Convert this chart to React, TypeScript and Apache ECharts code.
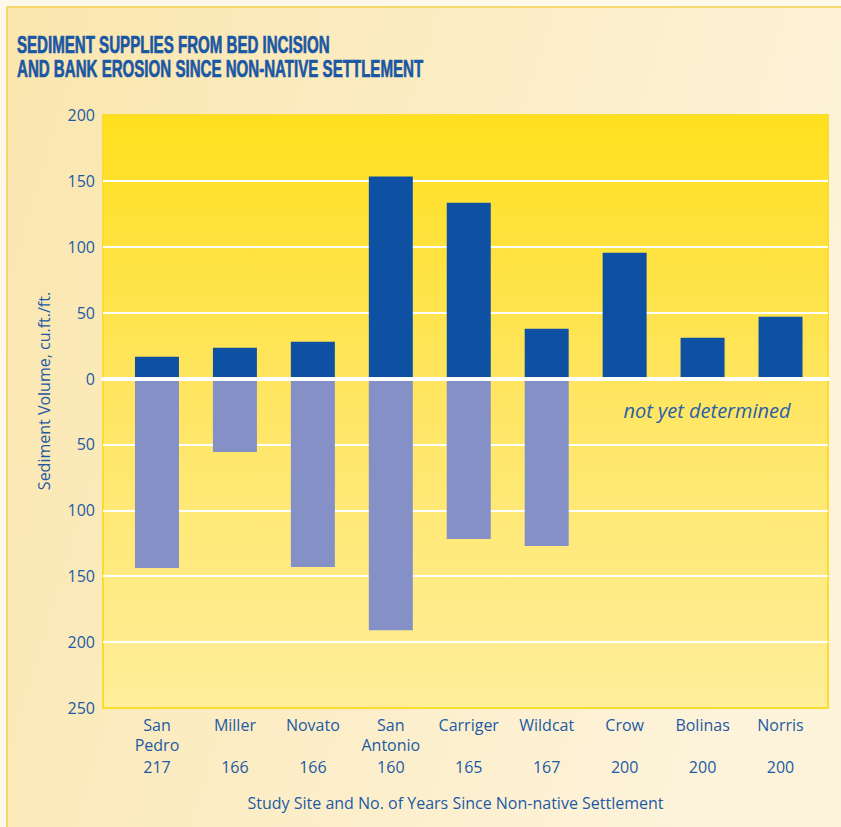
import React, { useEffect, useRef } from "react";
import * as echarts from "echarts";

// ---- data ----
const siteNames = ["San Pedro", "Miller", "Novato", "San Antonio", "Carriger", "Wildcat", "Crow", "Bolinas", "Norris"];
const yearsSince = [217, 166, 166, 160, 165, 167, 200, 200, 200];
const bedIncision = [16.5, 23.3, 27.9, 153.3, 133.5, 37.8, 95.5, 30.9, 46.9];
const bankErosion = [-143.8, -55.7, -143, -191, -121.8, -127.1, null, null, null];
const yTicks = { min: -250, max: 200, interval: 50 };

const titleLines = ["SEDIMENT SUPPLIES FROM BED INCISION", "AND BANK EROSION SINCE NON-NATIVE SETTLEMENT"];
const yAxisTitle = "Sediment Volume, cu.ft./ft.";
const xAxisTitle = "Study Site and No. of Years Since Non-native Settlement";
const pendingNote = "not yet determined";

const BLUE_TEXT = "#1d5aa5";
const FONT = '"Open Sans", "Noto Sans", sans-serif';
const TITLE_FONT_FAMILY = '"Liberation Sans", Arial, sans-serif';

function measure(text: string, font: string): number {
  const c = document.createElement("canvas").getContext("2d");
  if (!c) return text.length * 10;
  c.font = font;
  return c.measureText(text).width;
}

export default function App() {
  const ref = useRef<HTMLDivElement | null>(null);

  useEffect(() => {
    if (!ref.current) return;
    const chart = echarts.init(ref.current, null, { renderer: "svg", width: 841, height: 827 });

    const titleSize = 24;
    const w1 = measure(titleLines[0], `bold ${titleSize}px ${TITLE_FONT_FAMILY}`);
    const titleScale = 313 / w1;

    const titleText = (text: string, y: number) => ({
      type: "text",
      z: 100,
      x: 17,
      y,
      scaleX: titleScale,
      style: {
        text,
        fill: "#1b57a3",
        stroke: "#1b57a3",
        lineWidth: 0.7,
        font: `bold ${titleSize}px ${TITLE_FONT_FAMILY}`,
        textAlign: "left",
        textVerticalAlign: "middle",
      },
    });

    const option: any = {
      animation: false,
      graphic: [
        { type: "rect", z: -20, shape: { x: 0, y: 0, width: 841, height: 827 }, style: { fill: "#fef8ea" } },
        {
          type: "rect",
          z: -19,
          shape: { x: 7, y: 7, width: 850, height: 840 },
          style: {
            fill: new echarts.graphic.LinearGradient(0, 0, 1, 0.3, [
              { offset: 0, color: "#fae6ae" },
              { offset: 1, color: "#fdf3da" },
            ]),
            stroke: "#f5d04e",
            lineWidth: 1.5,
          },
        },
        titleText(titleLines[0], 45),
        titleText(titleLines[1], 68.5),
        {
          type: "text",
          z: 100,
          x: 44,
          y: 391,
          rotation: Math.PI / 2,
          style: {
            text: yAxisTitle,
            fill: BLUE_TEXT,
            font: `16px ${FONT}`,
            textAlign: "center",
            textVerticalAlign: "middle",
          },
        },
        {
          type: "text",
          z: 100,
          x: 455.5,
          y: 803,
          style: {
            text: xAxisTitle,
            fill: BLUE_TEXT,
            font: `16px ${FONT}`,
            textAlign: "center",
            textVerticalAlign: "middle",
          },
        },
        {
          type: "text",
          z: 100,
          x: 707,
          y: 410,
          style: {
            text: pendingNote,
            fill: "#2a60a8",
            font: `italic 20px ${FONT}`,
            textAlign: "center",
            textVerticalAlign: "middle",
          },
        },
      ],
      grid: [
        {
          left: 103,
          right: 13,
          top: 115,
          bottom: 119,
          show: true,
          backgroundColor: new echarts.graphic.LinearGradient(0, 0, 0, 1, [
            { offset: 0, color: "#ffe01e" },
            { offset: 0.45, color: "#ffe55f" },
            { offset: 1, color: "#ffee9a" },
          ]),
          borderColor: "#fcdc2c",
          borderWidth: 2,
        },
        { left: 118, right: 21.5, top: 115, bottom: 119 },
      ],
      xAxis: [
        {
          gridIndex: 0,
          type: "category",
          data: [""],
          z: 6,
          axisLine: { show: true, onZero: true, lineStyle: { color: "#ffffff", width: 4 } },
          axisTick: { show: false },
          axisLabel: { show: false },
          splitLine: { show: false },
        },
        {
          gridIndex: 1,
          type: "category",
          data: siteNames,
          axisLine: { show: false },
          axisTick: { show: false },
          splitLine: { show: false },
          axisLabel: {
            interval: 0,
            margin: 7,
            formatter: (value: string, index: number) => {
              const parts = value.split(" ");
              const l1 = parts[0];
              const l2 = parts.slice(1).join(" ") || "\u00a0";
              return `{n|${l1}}\n{n|${l2}}\n{y|${yearsSince[index]}}`;
            },
            rich: {
              n: { fontFamily: FONT, fontSize: 16, color: BLUE_TEXT, lineHeight: 20 },
              y: { fontFamily: FONT, fontSize: 16, color: BLUE_TEXT, lineHeight: 23 },
            },
          },
        },
      ],
      yAxis: [
        {
          gridIndex: 0,
          type: "value",
          min: yTicks.min,
          max: yTicks.max,
          interval: yTicks.interval,
          axisLine: { show: false },
          axisTick: { show: false },
          axisLabel: {
            margin: 8,
            color: BLUE_TEXT,
            fontFamily: FONT,
            fontSize: 16,
            formatter: (v: number) => String(Math.abs(v)),
          },
          splitLine: { show: true, showMinLine: false, showMaxLine: false, lineStyle: { color: "#ffffff", width: 2 } },
        },
        {
          gridIndex: 1,
          type: "value",
          min: yTicks.min,
          max: yTicks.max,
          interval: yTicks.interval,
          show: false,
          splitLine: { show: false },
        },
      ],
      series: [
        {
          type: "bar",
          xAxisIndex: 1,
          yAxisIndex: 1,
          data: bedIncision,
          barWidth: 44,
          barGap: "-100%",
          itemStyle: { color: "#0e51a3" },
        },
        {
          type: "bar",
          xAxisIndex: 1,
          yAxisIndex: 1,
          data: bankErosion,
          barWidth: 44,
          barGap: "-100%",
          itemStyle: { color: "#8490c6" },
        },
      ],
    };

    chart.setOption(option);
    return () => chart.dispose();
  }, []);

  return <div ref={ref} style={{ position: "absolute", left: 0, top: 0, width: 841, height: 827 }} />;
}
